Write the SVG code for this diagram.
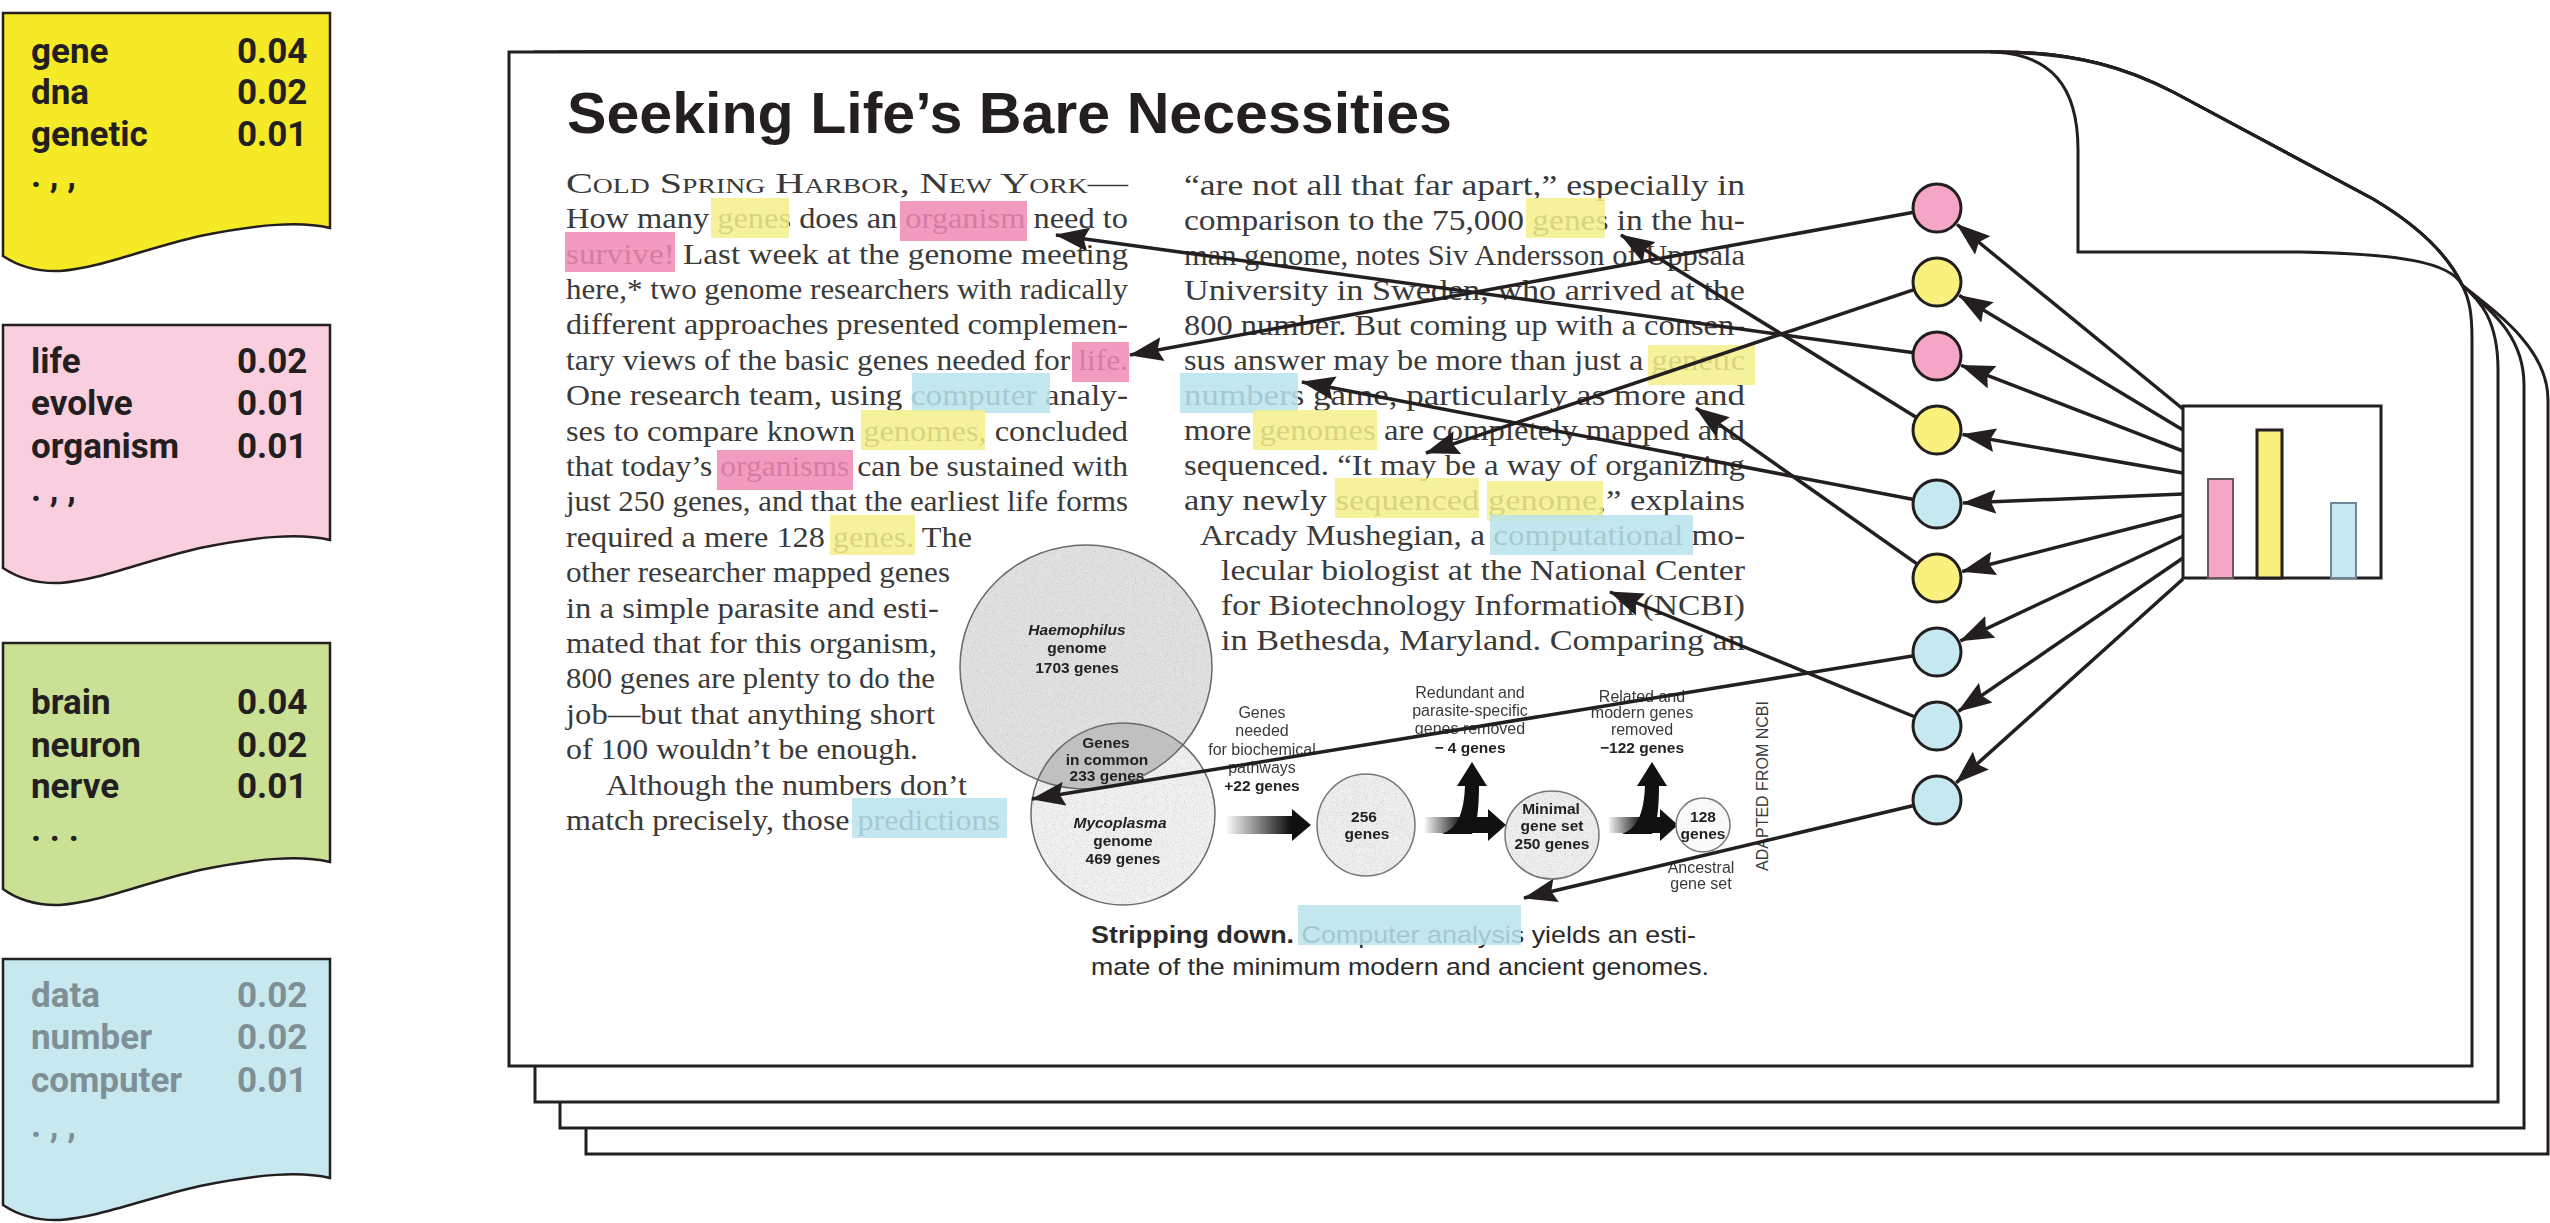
<svg xmlns="http://www.w3.org/2000/svg" width="2550" height="1223" viewBox="0 0 2550 1223">
<style>
.ln{fill:none;stroke:#231f20;stroke-width:3}
.pg{fill:#fff;stroke:#231f20;stroke-width:3;stroke-linejoin:miter}
.note{font-family:Roboto,"Liberation Sans",sans-serif;font-weight:700;font-size:35px;fill:#231f20}
.noteb{fill:#7e8f95}
.art{font-family:"Liberation Serif","Times New Roman",serif;font-size:29px;fill:#3a3a3a}
.ttl{font-family:"Liberation Sans",Arial,sans-serif;font-weight:700;font-size:57px;fill:#231f20}
.fig{font-family:"Liberation Sans",Arial,sans-serif;font-size:16px;fill:#3a3a3a;text-anchor:middle}
.fb{font-weight:700;fill:#222;font-size:15.5px}
.cap{font-family:"Liberation Sans",Arial,sans-serif;font-size:24px;fill:#2a2a2a}
.hy{fill:#f5f08b;opacity:.85}
.hp{fill:#f089b4;opacity:.85}
.hb{fill:#b8e3eb;opacity:.85}
.con{fill:none;stroke:#231f20;stroke-width:3.5;marker-end:url(#ah)}
.tc{stroke:#231f20;stroke-width:3}
.cp{fill:#f5a6c6}
.cy{fill:#f9f07e}
.cb{fill:#c6e8f0}
</style>
<defs>
<marker id="ah" viewBox="0 0 34 24" refX="33" refY="12" markerWidth="34" markerHeight="24" markerUnits="userSpaceOnUse" orient="auto">
<path d="M0,0 L34,12 L0,24 L5,12 Z" fill="#231f20"/>
</marker>
<linearGradient id="fa1" gradientUnits="userSpaceOnUse" x1="1225" y1="0" x2="1290" y2="0"><stop offset="0" stop-color="#fff"/><stop offset="1" stop-color="#111"/></linearGradient>
<linearGradient id="fa2" gradientUnits="userSpaceOnUse" x1="1423" y1="0" x2="1462" y2="0"><stop offset="0" stop-color="#fff"/><stop offset="1" stop-color="#111"/></linearGradient>
<linearGradient id="fa3" gradientUnits="userSpaceOnUse" x1="1607" y1="0" x2="1642" y2="0"><stop offset="0" stop-color="#fff"/><stop offset="1" stop-color="#111"/></linearGradient>
<clipPath id="hclip"><ellipse cx="1086" cy="667" rx="126" ry="122"/></clipPath>
<filter id="grain" x="0" y="0" width="100%" height="100%">
<feTurbulence type="fractalNoise" baseFrequency="0.9" numOctaves="2" seed="4" result="n"/>
<feColorMatrix in="n" type="matrix" values="0 0 0 0 0.4  0 0 0 0 0.4  0 0 0 0 0.4  0 0 0 1.1 -0.5" result="d"/>
<feComposite in="d" in2="SourceGraphic" operator="in" result="dc"/>
<feMerge><feMergeNode in="SourceGraphic"/><feMergeNode in="dc"/></feMerge>
</filter>
</defs>

<!-- topic notes -->
<g id="note-yellow">
<path d="M3,13 H330 V228 C300,221 260,224 200,236 C140,250 100,268 60,271 C35,272 15,264 3,256 Z" fill="#f6e926" stroke="#231f20" stroke-width="2.5"/>
<text class="note" x="31" y="62.5">gene</text><text class="note" x="237" y="62.5">0.04</text>
<text class="note" x="31" y="104">dna</text><text class="note" x="237" y="104">0.02</text>
<text class="note" x="31" y="145.6">genetic</text><text class="note" x="237" y="145.6">0.01</text>
<text class="note" x="31" y="187">. , ,</text>
</g>
<g id="note-pink">
<path d="M3,325 H330 V540 C300,533 260,536 200,548 C140,562 100,580 60,583 C35,584 15,576 3,568 Z" fill="#f9cfe0" stroke="#231f20" stroke-width="2.5"/>
<text class="note" x="31" y="372.6">life</text><text class="note" x="237" y="372.6">0.02</text>
<text class="note" x="31" y="414.7">evolve</text><text class="note" x="237" y="414.7">0.01</text>
<text class="note" x="31" y="458">organism</text><text class="note" x="237" y="458">0.01</text>
<text class="note" x="31" y="501">. , ,</text>
</g>
<g id="note-green">
<path d="M3,643 H330 V862 C300,855 260,858 200,870 C140,884 100,902 60,905 C35,906 15,898 3,889 Z" fill="#c9e095" stroke="#231f20" stroke-width="2.5"/>
<text class="note" x="31" y="714">brain</text><text class="note" x="237" y="714">0.04</text>
<text class="note" x="31" y="756.5">neuron</text><text class="note" x="237" y="756.5">0.02</text>
<text class="note" x="31" y="797.7">nerve</text><text class="note" x="237" y="797.7">0.01</text>
<text class="note" x="31" y="841">. . .</text>
</g>
<g id="note-blue">
<path d="M3,959 H330 V1178 C300,1171 260,1174 200,1186 C140,1200 100,1217 60,1220 C35,1221 15,1213 3,1205 Z" fill="#c8e8f0" stroke="#231f20" stroke-width="2.5"/>
<text class="note noteb" x="31" y="1006.5">data</text><text class="note noteb" x="237" y="1006.5">0.02</text>
<text class="note noteb" x="31" y="1048.8">number</text><text class="note noteb" x="237" y="1048.8">0.02</text>
<text class="note noteb" x="31" y="1092">computer</text><text class="note noteb" x="237" y="1092">0.01</text>
<text class="note noteb" x="31" y="1137">. , ,</text>
</g>

<!-- document stack -->
<g id="page-stack">
<path class="pg" d="M586,52 H2000 C2080,52 2130,70 2173,92 L2373,199 C2420,227 2448,255 2462,285 C2500,315 2548,350 2548,400 V1154 H586 Z"/>
<path class="pg" d="M560,52 H2000 C2080,52 2130,70 2173,92 L2373,199 C2420,227 2448,255 2462,285 C2490,310 2524,335 2524,385 V1128 H560 Z"/>
<path class="pg" d="M535,52 H2000 C2080,52 2130,70 2173,92 L2373,199 C2420,227 2448,255 2462,285 C2480,300 2498,320 2498,370 V1102 H535 Z"/>
<path class="pg" d="M509,52 H1995 C2050,55 2078,85 2078,150 V252 H2300 C2400,254 2450,262 2462,285 C2470,300 2472,315 2472,340 V1066 H509 Z"/>
<path class="ln" d="M1990,52 C2080,52 2130,70 2173,92 L2373,199 C2420,227 2448,255 2462,285"/>
</g>

<!-- article -->
<g id="article">
<text class="ttl" x="567" y="133" textLength="885" lengthAdjust="spacingAndGlyphs">Seeking Life’s Bare Necessities</text>
<g class="art">
<text x="566" y="192.7" textLength="562" lengthAdjust="spacingAndGlyphs" font-variant="small-caps">Cold Spring Harbor, New York—</text>
<text x="566" y="228.1" textLength="562" lengthAdjust="spacingAndGlyphs">How many genes does an organism need to</text>
<text x="566" y="263.5" textLength="562" lengthAdjust="spacingAndGlyphs">survive! Last week at the genome meeting</text>
<text x="566" y="298.9" textLength="562" lengthAdjust="spacingAndGlyphs">here,* two genome researchers with radically</text>
<text x="566" y="334.3" textLength="562" lengthAdjust="spacingAndGlyphs">different approaches presented complemen-</text>
<text x="566" y="369.7" textLength="562" lengthAdjust="spacingAndGlyphs">tary views of the basic genes needed for life.</text>
<text x="566" y="405.1" textLength="562" lengthAdjust="spacingAndGlyphs">One research team, using computer analy-</text>
<text x="566" y="440.5" textLength="562" lengthAdjust="spacingAndGlyphs">ses to compare known genomes, concluded</text>
<text x="566" y="475.9" textLength="562" lengthAdjust="spacingAndGlyphs">that today’s organisms can be sustained with</text>
<text x="566" y="511.3" textLength="562" lengthAdjust="spacingAndGlyphs">just 250 genes, and that the earliest life forms</text>
<text x="566" y="546.7" textLength="406" lengthAdjust="spacingAndGlyphs">required a mere 128 genes. The</text>
<text x="566" y="582.1" textLength="384" lengthAdjust="spacingAndGlyphs">other researcher mapped genes</text>
<text x="566" y="617.5" textLength="373" lengthAdjust="spacingAndGlyphs">in a simple parasite and esti-</text>
<text x="566" y="652.9" textLength="371" lengthAdjust="spacingAndGlyphs">mated that for this organism,</text>
<text x="566" y="688.3" textLength="369" lengthAdjust="spacingAndGlyphs">800 genes are plenty to do the</text>
<text x="566" y="723.7" textLength="369" lengthAdjust="spacingAndGlyphs">job—but that anything short</text>
<text x="566" y="759.1" textLength="352" lengthAdjust="spacingAndGlyphs">of 100 wouldn’t be enough.</text>
<text x="606" y="794.5" textLength="361" lengthAdjust="spacingAndGlyphs">Although the numbers don’t</text>
<text x="566" y="829.9" textLength="434" lengthAdjust="spacingAndGlyphs">match precisely, those predictions</text>

<text x="1184" y="195" textLength="561" lengthAdjust="spacingAndGlyphs">“are not all that far apart,” especially in</text>
<text x="1184" y="230" textLength="561" lengthAdjust="spacingAndGlyphs">comparison to the 75,000 genes in the hu-</text>
<text x="1184" y="265" textLength="561" lengthAdjust="spacingAndGlyphs">man genome, notes Siv Andersson of Uppsala</text>
<text x="1184" y="300" textLength="561" lengthAdjust="spacingAndGlyphs">University in Sweden, who arrived at the</text>
<text x="1184" y="335" textLength="561" lengthAdjust="spacingAndGlyphs">800 number. But coming up with a consen-</text>
<text x="1184" y="370" textLength="561" lengthAdjust="spacingAndGlyphs">sus answer may be more than just a genetic</text>
<text x="1184" y="405" textLength="561" lengthAdjust="spacingAndGlyphs">numbers game, particularly as more and</text>
<text x="1184" y="440" textLength="561" lengthAdjust="spacingAndGlyphs">more genomes are completely mapped and</text>
<text x="1184" y="475" textLength="561" lengthAdjust="spacingAndGlyphs">sequenced. “It may be a way of organizing</text>
<text x="1184" y="510" textLength="561" lengthAdjust="spacingAndGlyphs">any newly sequenced genome,” explains</text>
<text x="1200" y="545" textLength="545" lengthAdjust="spacingAndGlyphs">Arcady Mushegian, a computational mo-</text>
<text x="1221" y="580" textLength="524" lengthAdjust="spacingAndGlyphs">lecular biologist at the National Center</text>
<text x="1221" y="615" textLength="524" lengthAdjust="spacingAndGlyphs">for Biotechnology Information (NCBI)</text>
<text x="1221" y="650" textLength="524" lengthAdjust="spacingAndGlyphs">in Bethesda, Maryland. Comparing an</text>
</g>

<!-- figure -->
<g id="figure">
<g filter="url(#grain)">
<ellipse cx="1086" cy="667" rx="126" ry="122" fill="#e2e2e2"/>
<ellipse cx="1123" cy="814" rx="92" ry="91" fill="#f2f2f2"/>
<ellipse cx="1123" cy="814" rx="92" ry="91" fill="#c2c2c2" clip-path="url(#hclip)"/>
<ellipse cx="1366" cy="825" rx="49" ry="51" fill="#efefef"/>
<ellipse cx="1552" cy="835" rx="47" ry="44" fill="#efefef"/>
</g>
<ellipse cx="1086" cy="667" rx="126" ry="122" fill="none" stroke="#6a6a6a" stroke-width="1.5"/>
<ellipse cx="1123" cy="814" rx="92" ry="91" fill="none" stroke="#6a6a6a" stroke-width="1.5"/>
<ellipse cx="1366" cy="825" rx="49" ry="51" fill="none" stroke="#777" stroke-width="1.5"/>
<ellipse cx="1552" cy="835" rx="47" ry="44" fill="none" stroke="#777" stroke-width="1.5"/>
<text class="fig fb" x="1077" y="635" font-style="italic">Haemophilus</text>
<text class="fig fb" x="1077" y="653">genome</text>
<text class="fig fb" x="1077" y="673">1703 genes</text>
<text class="fig fb" x="1106" y="748">Genes</text>
<text class="fig fb" x="1107" y="765">in common</text>
<text class="fig fb" x="1107" y="781">233 genes</text>
<text class="fig fb" x="1120" y="828" font-style="italic">Mycoplasma</text>
<text class="fig fb" x="1123" y="846">genome</text>
<text class="fig fb" x="1123" y="864">469 genes</text>
<text class="fig" x="1262" y="718">Genes</text>
<text class="fig" x="1262" y="736">needed</text>
<text class="fig" x="1262" y="755">for biochemical</text>
<text class="fig" x="1262" y="773">pathways</text>
<text class="fig fb" x="1262" y="791">+22 genes</text>
<path d="M1227,816 H1292 V809 L1311,825 L1292,841 V834 H1227 Z" fill="url(#fa1)"/>
<text class="fig fb" x="1364" y="822">256</text>
<text class="fig fb" x="1367" y="839">genes</text>
<text class="fig" x="1470" y="698">Redundant and</text>
<text class="fig" x="1470" y="716">parasite-specific</text>
<text class="fig" x="1470" y="734">genes removed</text>
<text class="fig fb" x="1470" y="753">− 4 genes</text>
<path d="M1425,817 H1488 V809 L1506,825 L1488,841 V833 H1425 Z" fill="url(#fa2)"/>
<path d="M1442,834 C1458,828 1464,812 1465,786 L1457,786 L1472,762 L1487,786 L1479,786 C1479,812 1476,828 1472,834 Z" fill="#111"/>
<text class="fig fb" x="1551" y="814">Minimal</text>
<text class="fig fb" x="1552" y="831">gene set</text>
<text class="fig fb" x="1552" y="849">250 genes</text>
<text class="fig" x="1642" y="702">Related and</text>
<text class="fig" x="1642" y="718">modern genes</text>
<text class="fig" x="1642" y="735">removed</text>
<text class="fig fb" x="1642" y="753">−122 genes</text>
<path d="M1609,817 H1660 V809 L1678,825 L1660,841 V833 H1609 Z" fill="url(#fa3)"/>
<path d="M1622,834 C1638,828 1644,812 1645,786 L1637,786 L1652,762 L1667,786 L1659,786 C1659,812 1656,828 1652,834 Z" fill="#111"/>
<circle cx="1703" cy="825" r="27" fill="#f9f9f9" stroke="#777" stroke-width="1.5"/>
<text class="fig fb" x="1703" y="822">128</text>
<text class="fig fb" x="1703" y="839">genes</text>
<text class="fig" x="1701" y="873">Ancestral</text>
<text class="fig" x="1701" y="889">gene set</text>
<text class="fig" transform="translate(1768,786) rotate(-90)" font-size="17" fill="#555">ADAPTED FROM NCBI</text>
</g>
<g id="caption">
<text class="cap" x="1091" y="943" textLength="605" lengthAdjust="spacingAndGlyphs"><tspan font-weight="700">Stripping down.</tspan> Computer analysis yields an esti-</text>
<text class="cap" x="1091" y="975" textLength="618" lengthAdjust="spacingAndGlyphs">mate of the minimum modern and ancient genomes.</text>
</g>

<!-- highlights -->
<g id="highlights">
<rect class="hy" x="711" y="198" width="78" height="40"/>
<rect class="hp" x="900" y="201" width="127" height="40"/>
<rect class="hp" x="565" y="232" width="110" height="40"/>
<rect class="hp" x="1072" y="342" width="57" height="40"/>
<rect class="hb" x="912" y="373" width="138" height="40"/>
<rect class="hy" x="861" y="410" width="124" height="40"/>
<rect class="hp" x="717" y="450" width="136" height="40"/>
<rect class="hy" x="830" y="515" width="85" height="40"/>
<rect class="hb" x="852" y="798" width="155" height="40"/>
<rect class="hy" x="1526" y="198" width="79" height="40"/>
<rect class="hy" x="1648" y="345" width="107" height="40"/>
<rect class="hb" x="1180" y="373" width="118" height="40"/>
<rect class="hy" x="1253" y="410" width="124" height="40"/>
<rect class="hy" x="1335" y="478" width="144" height="40"/>
<rect class="hy" x="1487" y="481" width="116" height="40"/>
<rect class="hb" x="1490" y="515" width="203" height="40"/>
<rect class="hb" x="1298" y="905" width="223" height="40"/>
</g>
</g>

<!-- topic circles -->
<g id="topic-1"><circle class="tc cp" cx="1937" cy="208" r="24"/></g>
<g id="topic-2"><circle class="tc cy" cx="1937" cy="282" r="24"/></g>
<g id="topic-3"><circle class="tc cp" cx="1937" cy="356" r="24"/></g>
<g id="topic-4"><circle class="tc cy" cx="1937" cy="430" r="24"/></g>
<g id="topic-5"><circle class="tc cb" cx="1937" cy="504" r="24"/></g>
<g id="topic-6"><circle class="tc cy" cx="1937" cy="578" r="24"/></g>
<g id="topic-7"><circle class="tc cb" cx="1937" cy="652" r="24"/></g>
<g id="topic-8"><circle class="tc cb" cx="1937" cy="726" r="24"/></g>
<g id="topic-9"><circle class="tc cb" cx="1937" cy="800" r="24"/></g>

<!-- proportions bar chart -->
<g id="bar-chart">
<rect x="2183" y="406" width="198" height="172" fill="#fff" stroke="#231f20" stroke-width="3"/>
<rect x="2208" y="479" width="25" height="99" fill="#f5a6c6" stroke="#6b5860" stroke-width="2"/>
<rect x="2257" y="430" width="25" height="148" fill="#f9f07e" stroke="#231f20" stroke-width="3"/>
<rect x="2331" y="503" width="25" height="75" fill="#c6e8f0" stroke="#6b8a95" stroke-width="2"/>
</g>

<!-- connectors -->
<g id="connectors">
<path class="con" d="M1912.4,212.5 L1130,355"/>
<path class="con" d="M1913.3,289.9 L1426,453"/>
<path class="con" d="M1912.2,352.6 L1056,235"/>
<path class="con" d="M1915.7,416.9 L1621,235"/>
<path class="con" d="M1912.4,499.3 L1302,382"/>
<path class="con" d="M1916.6,563.6 L1696,408"/>
<path class="con" d="M1912.3,656 L1032,799"/>
<path class="con" d="M1913.9,716.5 L1610,592"/>
<path class="con" d="M1912.7,805.8 L1524,898"/>
<path class="con" d="M2183,409 L1957.1,224.5"/>
<path class="con" d="M2183,430 L1959.3,295.4"/>
<path class="con" d="M2183,451 L1961.3,365.4"/>
<path class="con" d="M2183,473 L1962.6,434.5"/>
<path class="con" d="M2183,494 L1963,503"/>
<path class="con" d="M2183,515 L1962.2,571.5"/>
<path class="con" d="M2183,536 L1960.5,640.9"/>
<path class="con" d="M2183,558 L1958.5,711.3"/>
<path class="con" d="M2183,579 L1956.3,782.6"/>
</g>
</svg>
